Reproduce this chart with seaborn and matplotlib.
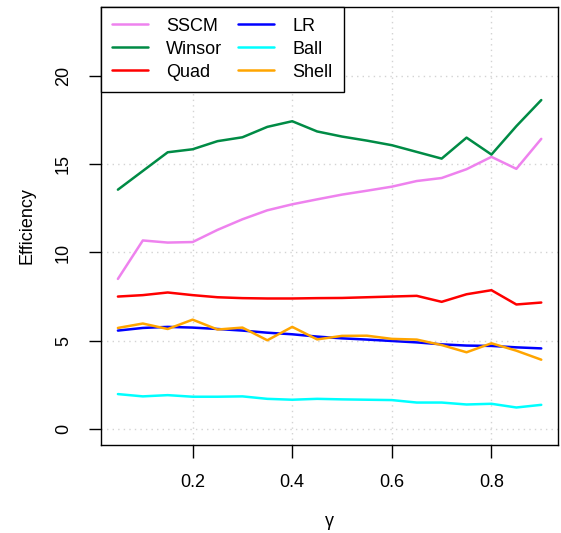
import matplotlib
matplotlib.use("Agg")
import matplotlib.pyplot as plt
import numpy as np
import pandas as pd
import seaborn as sns

# gamma grid
gamma = [0.05, 0.10, 0.15, 0.20, 0.25, 0.30, 0.35, 0.40, 0.45,
         0.50, 0.55, 0.60, 0.65, 0.70, 0.75, 0.80, 0.85, 0.90]

sscm = [8.50, 10.68, 10.56, 10.59, 11.28, 11.88, 12.39, 12.73, 13.01,
        13.28, 13.50, 13.73, 14.05, 14.22, 14.72, 15.42, 14.74, 16.44]
winsor = [13.56, 14.62, 15.68, 15.85, 16.31, 16.53, 17.12, 17.44, 16.86,
          16.57, 16.34, 16.08, 15.70, 15.32, 16.51, 15.55, 17.16, 18.64]
quad = [7.50, 7.58, 7.73, 7.58, 7.46, 7.41, 7.39, 7.39, 7.41,
        7.42, 7.46, 7.50, 7.54, 7.20, 7.63, 7.86, 7.05, 7.16]
lr = [5.57, 5.72, 5.78, 5.74, 5.66, 5.57, 5.45, 5.36, 5.23,
      5.13, 5.06, 4.98, 4.90, 4.79, 4.72, 4.70, 4.62, 4.56]
ball = [1.97, 1.84, 1.91, 1.82, 1.82, 1.84, 1.70, 1.65, 1.70,
        1.67, 1.65, 1.63, 1.49, 1.49, 1.38, 1.42, 1.21, 1.36]
shell = [5.72, 5.97, 5.66, 6.19, 5.63, 5.74, 5.02, 5.78, 5.07,
         5.27, 5.28, 5.10, 5.06, 4.75, 4.34, 4.85, 4.43, 3.92]

methods = ["SSCM", "Winsor", "Quad", "LR", "Ball", "Shell"]
colors = ["violet", "#008B45", "red", "blue", "cyan", "orange"]

df = pd.DataFrame({"gamma": gamma, "SSCM": sscm, "Winsor": winsor, "Quad": quad,
                   "LR": lr, "Ball": ball, "Shell": shell})
df = df.melt(id_vars="gamma", var_name="method", value_name="eff")

sns.set_style("white")
plt.rcParams["font.family"] = ["Liberation Sans", "DejaVu Sans"]
plt.rcParams["text.color"] = "black"
plt.rcParams["xtick.color"] = "black"
plt.rcParams["ytick.color"] = "black"
plt.rcParams["axes.labelcolor"] = "black"

fig = plt.figure(figsize=(5.61, 5.33), dpi=100)
ax = fig.add_axes([0.180, 0.165, 0.815, 0.822])

sns.lineplot(data=df, x="gamma", y="eff", hue="method", hue_order=methods,
             palette=colors, linewidth=1.8, ax=ax)

ax.set_xlim(0.016, 0.934)
ax.set_ylim(-0.92, 23.92)
ax.set_xticks([0.2, 0.4, 0.6, 0.8])
ax.set_yticks([0, 5, 10, 15, 20])
ax.grid(True, color="lightgray", linestyle=(0, (1, 3)), linewidth=1)
for s in ax.spines.values():
    s.set_color("black")
    s.set_linewidth(1)
ax.tick_params(axis="both", direction="out", length=9, width=1,
               labelsize=13, bottom=True, left=True)
ax.tick_params(axis="x", pad=12)
ax.tick_params(axis="y", pad=12)
plt.setp(ax.get_yticklabels(), rotation=90, va="center")
ax.set_xlabel("γ", fontsize=13, labelpad=16)
ax.set_ylabel("Efficiency", fontsize=13, labelpad=14)

leg = ax.legend(loc="upper left", bbox_to_anchor=(0, 1), borderaxespad=0, ncol=2,
                fontsize=13, fancybox=False, framealpha=1, edgecolor="black",
                handlelength=2.0, columnspacing=0.9, labelspacing=0.33,
                borderpad=0.6, handletextpad=1.0)
leg.get_frame().set_linewidth(1)

fig.savefig("out.png", dpi=100)
